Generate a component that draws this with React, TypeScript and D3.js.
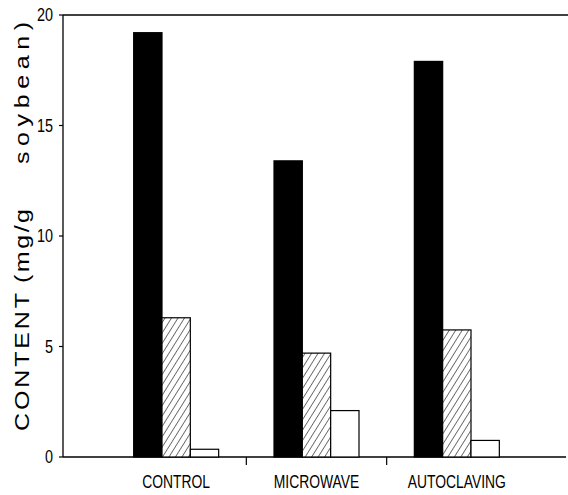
import React from "react";
import * as d3 from "d3";

const categories = ["CONTROL", "MICROWAVE", "AUTOCLAVING"];
const seriesKeys = ["solid", "hatched", "open"];
const solidValues = [19.2, 13.4, 17.9];
const hatchedValues = [6.3, 4.7, 5.75];
const openValues = [0.35, 2.1, 0.75];
const yTicks = [0, 5, 10, 15, 20];
const titleParts = ["CONTENT", "(mg/g", "soybean)"];

const W = 568;
const H = 495;
const sans = "'Liberation Sans', Arial, sans-serif";

// pieces of the rotated axis title: [bottom y, length]
const titleSpans: [number, number][] = [
  [431, 138],
  [283, 74],
  [164, 142],
];
const titleStretch = 1.25;

export default function App() {
  const y = d3.scaleLinear().domain([0, 20]).range([457, 15]);
  const x = d3.scaleBand().domain(categories).range([106, 527]).padding(0);
  const groupW = 85;
  const inner = d3.scaleBand().domain(seriesKeys).range([0, groupW]).padding(0);
  const off = (x.bandwidth() - groupW) / 2;

  const rows = categories.map((c, i) => ({
    cat: c,
    vals: [solidValues[i], hatchedValues[i], openValues[i]],
  }));

  const fills: Record<string, string> = {
    solid: "#000",
    hatched: "url(#hatch)",
    open: "#fff",
  };

  const between = categories.slice(1).map((c) => x(c) as number);

  return (
    <div style={{ position: "fixed", left: 0, top: 0 }}>
      <svg width={W} height={H} style={{ display: "block", background: "#fff" }}>
        <defs>
          <pattern
            id="hatch"
            width="5.5"
            height="5.5"
            patternUnits="userSpaceOnUse"
            patternTransform="rotate(32)"
          >
            <rect width="5.5" height="5.5" fill="#fff" />
            <line x1="0" y1="0" x2="0" y2="5.5" stroke="#000" strokeWidth="1.1" />
          </pattern>
        </defs>

        {/* frame */}
        <line x1={63} x2={568} y1={y(20)} y2={y(20)} stroke="#000" strokeWidth={1.3} />
        <line x1={63} x2={63} y1={y(20)} y2={y(0)} stroke="#000" strokeWidth={1.3} />
        <line x1={63} x2={566} y1={y(0)} y2={y(0)} stroke="#000" strokeWidth={1.5} />

        {/* y ticks */}
        {yTicks.map((t) => (
          <g key={t}>
            <line x1={59} x2={63} y1={y(t)} y2={y(t)} stroke="#000" strokeWidth={1.2} />
            <text
              transform={`translate(53,${y(t)}) scale(0.8,1)`}
              dy="0.36em"
              textAnchor="end"
              fontFamily={sans}
              fontSize={18}
              fill="#000"
            >
              {t}
            </text>
          </g>
        ))}

        {/* x ticks between groups */}
        {between.map((bx, i) => (
          <line key={i} x1={bx} x2={bx} y1={y(0)} y2={y(0) + 8} stroke="#000" strokeWidth={1.2} />
        ))}

        {/* bars */}
        {rows.map((r) => (
          <g key={r.cat}>
            {seriesKeys.map((k, j) => (
              <rect
                key={k}
                x={(x(r.cat) as number) + off + (inner(k) as number)}
                y={y(r.vals[j])}
                width={inner.bandwidth()}
                height={y(0) - y(r.vals[j])}
                fill={fills[k]}
                stroke="#000"
                strokeWidth={1.2}
              />
            ))}
            <text
              transform={`translate(${(x(r.cat) as number) + x.bandwidth() / 2},488) scale(0.73,1)`}
              textAnchor="middle"
              fontFamily={sans}
              fontSize={19}
              fill="#000"
            >
              {r.cat}
            </text>
          </g>
        ))}

        {/* y axis title */}
        <g transform={`translate(29,0) rotate(-90) scale(${titleStretch},1)`}>
          {titleParts.map((p, i) => (
            <text
              key={p}
              x={-titleSpans[i][0] / titleStretch}
              y={0}
              fontFamily={sans}
              fontSize={20}
              fill="#000"
              textLength={titleSpans[i][1] / titleStretch}
              lengthAdjust="spacing"
            >
              {p}
            </text>
          ))}
        </g>
      </svg>
    </div>
  );
}
